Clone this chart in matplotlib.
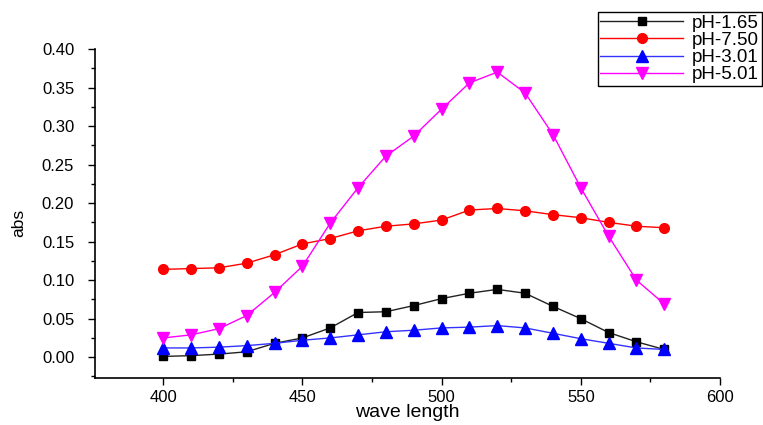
import numpy as np
import matplotlib.pyplot as plt
from matplotlib.ticker import MultipleLocator

plt.rcParams['font.family'] = ['Liberation Sans', 'DejaVu Sans']

# wavelength (nm)
wave = [400, 410, 420, 430, 440, 450, 460, 470, 480, 490,
        500, 510, 520, 530, 540, 550, 560, 570, 580]

ph_165 = [0.001, 0.002, 0.004, 0.007, 0.018, 0.025, 0.038, 0.058, 0.059, 0.067,
          0.076, 0.083, 0.088, 0.083, 0.066, 0.050, 0.032, 0.020, 0.010]
ph_750 = [0.114, 0.115, 0.116, 0.122, 0.133, 0.147, 0.154, 0.164, 0.170, 0.173,
          0.178, 0.191, 0.193, 0.190, 0.185, 0.181, 0.175, 0.170, 0.168]
ph_301 = [0.012, 0.012, 0.013, 0.015, 0.018, 0.022, 0.025, 0.029, 0.033, 0.035,
          0.038, 0.039, 0.041, 0.038, 0.031, 0.024, 0.018, 0.012, 0.010]
ph_501 = [0.025, 0.029, 0.037, 0.054, 0.084, 0.118, 0.174, 0.220, 0.261, 0.287,
          0.322, 0.356, 0.370, 0.343, 0.289, 0.220, 0.157, 0.100, 0.069]

labels = ['pH-1.65', 'pH-7.50', 'pH-3.01', 'pH-5.01']

fig = plt.figure(figsize=(7.63, 4.25), dpi=100)
ax = fig.add_axes([0.1245, 0.1106, 0.8191, 0.7741])

ax.plot(wave, ph_165, color='#222222', lw=1, marker='s', ms=6,
        mfc='black', mec='black', label=labels[0])
ax.plot(wave, ph_750, color='red', lw=1, marker='o', ms=7,
        mfc='red', mec='red', label=labels[1])
ax.plot(wave, ph_301, color='#3333ff', lw=1, marker='^', ms=8,
        mfc='blue', mec='blue', label=labels[2])
ax.plot(wave, ph_501, color='magenta', lw=1, marker='v', ms=8,
        mfc='magenta', mec='magenta', label=labels[3])

ax.set_xlim(375.5, 600)
ax.set_ylim(-0.027, 0.40)
ax.xaxis.set_major_locator(MultipleLocator(50))
ax.xaxis.set_minor_locator(MultipleLocator(25))
ax.yaxis.set_major_locator(MultipleLocator(0.05))
ax.yaxis.set_minor_locator(MultipleLocator(0.025))
ax.yaxis.set_major_formatter(plt.FormatStrFormatter('%.2f'))

ax.spines['top'].set_visible(False)
ax.spines['right'].set_visible(False)
for s in ['left', 'bottom']:
    ax.spines[s].set_linewidth(1.2)
ax.tick_params(which='major', direction='out', length=5, width=1, labelsize=12)
ax.tick_params(axis='x', which='major', pad=4)
ax.tick_params(axis='y', which='major', pad=10)
ax.tick_params(which='minor', direction='out', length=3, width=1)

ax.set_xlabel('wave length', fontsize=14, va='center')
ax.xaxis.set_label_coords(0.5, -0.105)
ax.set_ylabel('abs', fontsize=12.5, va='center')
ax.yaxis.set_label_coords(-0.122, 0.47)

fig.legend(loc='upper right', bbox_to_anchor=(0.9987, 0.972), borderaxespad=0,
           fontsize=13.5, handlelength=4.4, fancybox=False, edgecolor='black',
           framealpha=1, labelspacing=0.0, borderpad=0.15, handletextpad=0.5)

fig.savefig('out.png', dpi=100)
